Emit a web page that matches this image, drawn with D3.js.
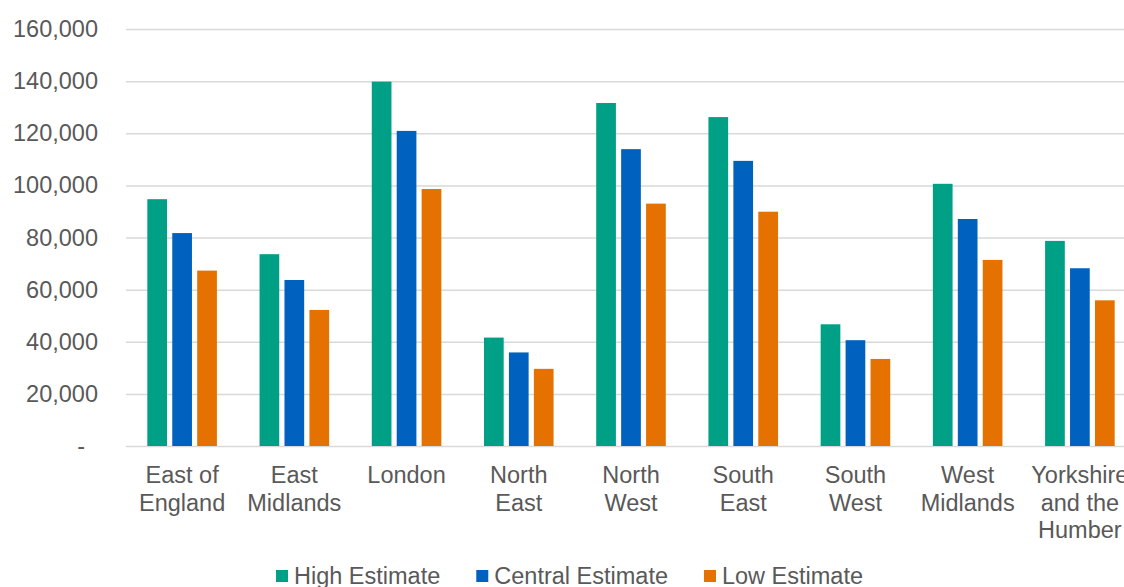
<!DOCTYPE html>
<html><head><meta charset="utf-8">
<script src="https://cdn.jsdelivr.net/npm/d3@7"></script>
<style>
html,body{margin:0;padding:0;background:#fff;overflow:hidden;}
text{font-family:"Liberation Sans",Arial,sans-serif;fill:#595959;}
</style></head>
<body>
<svg id="chart" width="1124" height="587"></svg>
<script>
const categories = [["East of","England"],["East","Midlands"],["London"],["North","East"],["North","West"],["South","East"],["South","West"],["West","Midlands"],["Yorkshire","and the","Humber"]];
const seriesNames = ["High Estimate","Central Estimate","Low Estimate"];
const highEstimate = [94700, 73600, 139800, 41600, 131600, 126200, 46700, 100600, 78700];
const centralEstimate = [81700, 63700, 120900, 35900, 113900, 109400, 40600, 87100, 68200];
const lowEstimate = [67300, 52200, 98600, 29600, 93000, 89900, 33400, 71400, 55900];
const yTicks = [0,20000,40000,60000,80000,100000,120000,140000,160000];
const colors = ["#00A086","#0062BE","#E57200"];

(function(){
const svg = d3.select("#chart");
const fs = 23.5;
const mLeft = 126, mRight = 1136, mTop = 29, mBottom = 446;
const catKeys = categories.map(c => c.join(" "));
const x = d3.scaleBand().domain(catKeys).range([mLeft, mRight]).paddingInner(0.38).paddingOuter(0.19);
const xs = d3.scaleBand().domain(seriesNames).range([0, x.bandwidth()]).paddingInner(0.21).paddingOuter(0);
const y = d3.scaleLinear().domain([0,160000]).range([mBottom, mTop]);

// gridlines + y labels
const yAxis = d3.axisLeft(y).tickValues(yTicks).tickSize(-(mRight-mLeft)).tickPadding(28)
  .tickFormat(d => d === 0 ? "-" : d3.format(",")(d));
const ga = svg.append("g").attr("transform", `translate(${mLeft},0)`).call(yAxis);
ga.select(".domain").remove();
ga.selectAll(".tick line").attr("stroke","#d9d9d9").attr("stroke-width",1.5);
ga.selectAll(".tick text").attr("fill","#595959").style("font-size", fs+"px")
  .style("font-family","Liberation Sans, Arial, sans-serif")
  .attr("x", d => d === 0 ? -41 : -28);

// bars
const data = [highEstimate, centralEstimate, lowEstimate];
const groups = svg.append("g").selectAll("g").data(catKeys).join("g")
  .attr("transform", d => `translate(${x(d)},0)`);
groups.selectAll("rect").data((d,i) => seriesNames.map((s,j) => ({s, v: data[j][i], j})))
  .join("rect")
  .attr("x", d => xs(d.s))
  .attr("width", xs.bandwidth())
  .attr("y", d => y(d.v))
  .attr("height", d => mBottom - y(d.v))
  .attr("fill", d => colors[d.j]);

// x labels
const xl = svg.append("g");
categories.forEach((lines, i) => {
  const cx = x(catKeys[i]) + x.bandwidth()/2;
  const t = xl.append("text").attr("text-anchor","middle").style("font-size", fs+"px");
  lines.forEach((ln, k) => {
    t.append("tspan").attr("x", cx).attr("y", 483 + k*27.5).text(ln);
  });
});

// legend
const lg = svg.append("g");
let lx = 276;
seriesNames.forEach((s, i) => {
  lg.append("rect").attr("x", lx).attr("y", 570).attr("width", 12).attr("height", 12).attr("fill", colors[i]);
  const t = lg.append("text").attr("x", lx + 18).attr("y", 584).style("font-size", fs+"px").text(s);
  const w = t.node().getComputedTextLength();
  lx = lx + 18 + w + 36;
});
})();
</script>
</body></html>
